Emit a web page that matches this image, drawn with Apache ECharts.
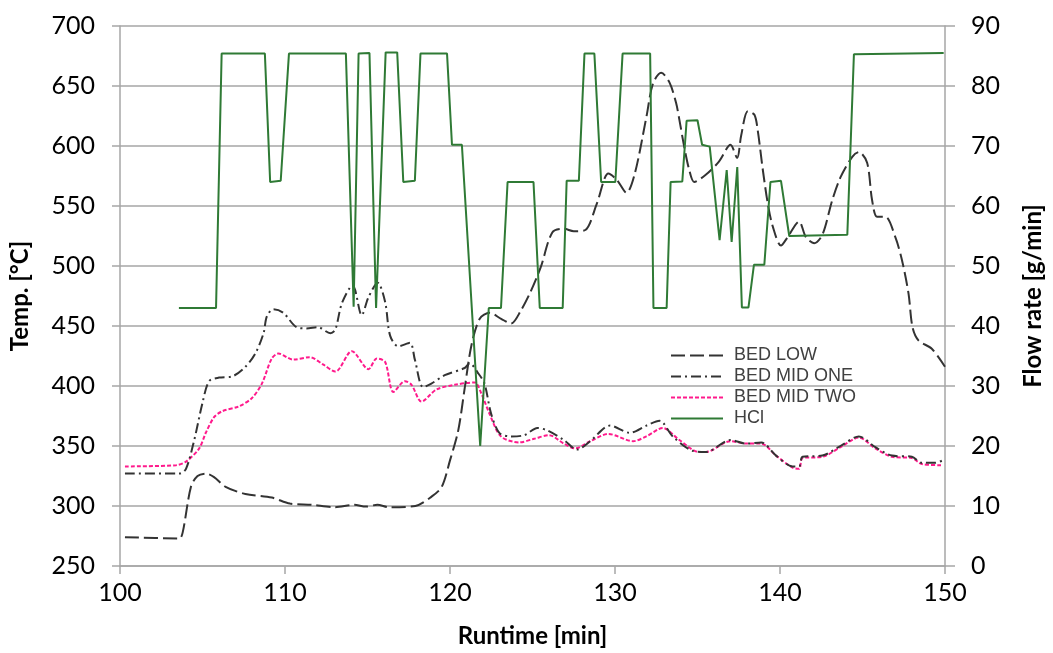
<!DOCTYPE html>
<html>
<head>
<meta charset="utf-8">
<script src="https://cdn.jsdelivr.net/npm/echarts@6/dist/echarts.min.js"></script>
<style>
html,body{margin:0;padding:0;background:#fff;}
#chart{width:1053px;height:653px;}
</style>
</head>
<body>
<div id="chart"></div>
<script>
// Runtime [min], Temp [°C]
var bedLow = [[100.3,274],[103.6,273],[103.8,278],[104.3,316],[104.7,325],[105.2,327],[105.7,324],[106.4,316],[107.6,310],[109.2,307],[110.3,302],[111.6,301],[113.0,299],[114.2,301],[114.9,299.5],[115.6,301],[116.3,299],[117.9,300],[118.9,308],[119.5,316],[120.0,338],[120.5,363],[120.9,399],[121.3,434],[121.8,456],[122.4,461],[123.1,456],[123.7,452],[124.3,463],[124.9,479],[125.5,499],[126.2,528],[126.9,531],[127.5,529],[128.2,530],[128.9,552],[129.6,577],[130.1,572],[130.7,561],[131.2,577],[131.9,624],[132.3,652],[132.8,661],[133.3,653],[133.7,636],[133.9,622],[134.2,599],[134.5,580],[134.8,570],[135.5,576],[136.3,587],[137.0,601],[137.4,590],[137.65,609],[138.05,629],[138.45,626],[138.65,613],[138.96,580],[139.26,552],[139.56,533],[140.06,517],[140.46,524],[141.16,537],[141.57,524],[142.07,519],[142.57,526],[143.17,555],[143.67,574],[144.38,591],[144.78,595],[145.28,586],[145.58,555],[145.88,541],[146.39,541],[146.99,524],[147.39,505],[147.79,477],[148.03,449],[148.39,438],[149.2,431],[150,416]];
var bedMidOne = [[100.3,327],[103.6,327],[104.0,331],[104.5,355],[105.0,386],[105.4,404],[106.0,407],[106.8,408],[107.6,416],[108.2,427],[108.7,444],[108.9,458],[109.3,464],[109.9,461],[110.7,449],[111.3,448],[112.0,449],[112.75,444],[113.05,447],[113.45,469],[114.1,484],[114.65,459],[115.06,474],[115.62,486],[116.07,470],[116.37,442],[116.87,433],[117.57,436],[117.87,422],[118.37,399],[118.87,402],[119.68,409],[120.89,415],[121.19,419],[121.69,411],[122.09,402],[122.49,377],[122.99,361],[123.69,358],[124.5,359],[125.3,365],[125.9,363],[126.9,355],[127.7,347],[128.5,354],[129.7,367],[130.9,361],[131.9,367],[132.7,371],[133.5,358],[134.7,346],[135.5,345],[137.0,355],[137.95,352],[138.86,353],[139.76,342],[140.76,333],[141.16,333],[141.37,341],[142.57,342],[143.78,351],[144.78,358],[145.78,349],[146.79,342],[147.99,341],[148.6,336],[149.4,336],[150,339]];
var bedMidTwo = [[100.3,333],[103.4,334],[104.0,337],[104.8,348],[105.2,361],[105.7,374],[106.2,379],[107.2,383],[108.0,390],[108.6,402],[109.2,423],[109.6,427],[110.5,422],[111.5,424],[112.3,418],[113.05,412],[114.05,429],[115.06,414],[115.56,423],[116.07,420],[116.57,395],[117.27,404],[117.67,401],[118.27,387],[119.17,397],[120.28,401],[121.49,403],[121.89,394],[122.39,377],[123.09,358],[124.2,353],[125.1,356],[126.0,359],[126.9,352],[127.6,348],[128.5,354],[129.6,360],[131.1,354],[131.9,358],[132.9,365],[133.9,355],[135.1,345],[135.5,345],[137.0,354],[137.95,352],[138.86,352],[139.76,342],[140.76,332],[141.16,331],[141.37,340],[142.57,341],[143.78,350],[144.78,357],[145.78,348],[146.79,341],[147.99,340],[148.6,335],[149.8,334]];
// Runtime [min], Flow rate [g/min]
var hcl = [[103.57,43],[105.82,43],[106.16,85.4],[108.78,85.4],[109.10,64],[109.74,64.2],[110.24,85.4],[113.69,85.4],[114.16,43.2],[114.46,85.4],[115.12,85.5],[115.52,43],[116.10,85.6],[116.80,85.6],[117.17,64],[117.87,64.2],[118.21,85.4],[119.82,85.4],[120.12,70.2],[120.72,70.2],[121.83,20],[122.35,43],[123.09,43],[123.49,64],[125.06,64],[125.44,43],[126.83,43],[127.07,64.2],[127.81,64.2],[128.15,85.4],[128.75,85.4],[129.16,64],[130.02,64],[130.46,85.4],[132.13,85.4],[132.33,43],[133.13,43],[133.37,64],[134.08,64.1],[134.34,74.2],[135.00,74.3],[135.28,70.2],[135.74,69.9],[136.34,54.3],[136.77,66],[137.07,54],[137.41,66.5],[137.69,43.1],[138.09,43.1],[138.42,50.2],[139.05,50.2],[139.42,64],[140.06,64.2],[140.56,55],[144.08,55.2],[144.48,85.3],[149.92,85.5]];

var seriesNames = ['BED LOW','BED MID ONE','BED MID TWO','HCl'];
var xTicks = {min:100, max:150, interval:10};
var tempTicks = {min:250, max:700, interval:50};
var flowTicks = {min:0, max:90, interval:10};

var labelFont = {fontFamily:'Lato', fontSize:25, color:'#000'};
var nameFont = {fontFamily:'Lato', fontSize:24, fontWeight:'bold', color:'#000'};
var gridCol = '#a6a6a6';

var chart = echarts.init(document.getElementById('chart'), null, {renderer:'canvas'});
chart.setOption({
  animation:false,
  backgroundColor:'#fff',
  grid:{left:120, right:103, top:26, bottom:87, containLabel:false},
  legend:{
    orient:'vertical', left:670, top:345, padding:0,
    itemWidth:52, itemHeight:12, itemGap:0,
    itemStyle:{opacity:0},
    textStyle:{fontFamily:'Liberation Sans', fontSize:18, lineHeight:21, height:21, color:'#404040', padding:[0,0,0,6]},
    data:seriesNames
  },
  xAxis:{
    type:'value', min:xTicks.min, max:xTicks.max, interval:xTicks.interval,
    name:'Runtime [min]', nameLocation:'middle', nameGap:58, nameTextStyle:nameFont,
    axisLine:{show:true, onZero:false, lineStyle:{color:gridCol, width:1.5}},
    axisTick:{show:true, length:8, lineStyle:{color:gridCol, width:1.5}},
    axisLabel:{margin:14, ...labelFont},
    splitLine:{show:false}
  },
  yAxis:[{
    type:'value', min:tempTicks.min, max:tempTicks.max, interval:tempTicks.interval,
    name:'Temp. [°C]', nameLocation:'middle', nameRotate:90, nameGap:88, nameTextStyle:nameFont,
    axisLine:{show:true, lineStyle:{color:gridCol, width:1.5}},
    axisTick:{show:true, length:8, lineStyle:{color:gridCol, width:1.5}},
    axisLabel:{margin:25, ...labelFont},
    splitLine:{show:true, lineStyle:{color:gridCol, width:1.5}}
  },{
    type:'value', position:'right', min:flowTicks.min, max:flowTicks.max, interval:flowTicks.interval,
    name:'Flow rate [g/min]', nameLocation:'middle', nameRotate:90, nameGap:76, nameTextStyle:nameFont,
    axisLine:{show:true, lineStyle:{color:gridCol, width:1.5}},
    axisTick:{show:true, length:10, lineStyle:{color:gridCol, width:1.5}},
    axisLabel:{margin:26, ...labelFont},
    splitLine:{show:false}
  }],
  series:[
    {name:seriesNames[0], type:'line', yAxisIndex:0, data:bedLow, symbol:'none', smooth:0.3,
      lineStyle:{color:'#333333', width:2, type:[14,5]}, itemStyle:{color:'#333333'}, z:3},
    {name:seriesNames[1], type:'line', yAxisIndex:0, data:bedMidOne, symbol:'none', smooth:0.3,
      lineStyle:{color:'#333333', width:2, type:[10,4,2,4]}, itemStyle:{color:'#333333'}, z:3},
    {name:seriesNames[2], type:'line', yAxisIndex:0, data:bedMidTwo, symbol:'none', smooth:0.3,
      lineStyle:{color:'#ff1a8c', width:2, type:[4,2]}, itemStyle:{color:'#ff1a8c'}, z:2},
    {name:seriesNames[3], type:'line', yAxisIndex:1, data:hcl, symbol:'none', smooth:false,
      lineStyle:{color:'#2f7a35', width:2}, itemStyle:{color:'#2f7a35'}, z:4}
  ]
});
</script>
</body>
</html>
